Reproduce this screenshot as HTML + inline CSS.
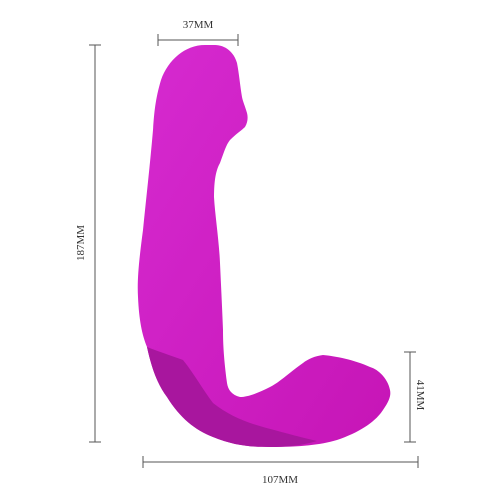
<!DOCTYPE html>
<html><head><meta charset="utf-8"><style>
html,body{margin:0;padding:0;background:#fff;}
svg{display:block;}
text{font-family:"Liberation Serif",serif;font-size:11px;fill:#333;}
</style></head><body>
<svg width="500" height="500" viewBox="0 0 500 500">
<defs>
<linearGradient id="g" x1="0" y1="0" x2="1" y2="1">
<stop offset="0" stop-color="#d62ad0"/><stop offset="1" stop-color="#c615b6"/>
</linearGradient>
</defs>
<g>
<path fill="url(#g)" d="M205,45 C185,45 168,60 161,80 C155,100 154,115 153,130 C150,165 146,200 143,230 C139,260 137,280 138,297 C139,320 142,335 147,347 C152,370 158,385 167,397 C180,418 195,430 213,437 C235,446 252,447 270,447 C300,447 320,445 337,440 C360,432 375,422 383,410 C390,400 391,395 390,390 C388,380 380,370 370,367 C355,360 335,356 323,355 C315,356 308,359 303,363 C290,372 280,382 270,387 C258,393 248,397 240,397 C232,395 228,390 227,383 C224,360 223,345 223,330 C222,305 221,285 220,263 C219,240 215,215 214,197 C214,180 216,170 220,163 C224,152 226,145 230,140 C236,134 242,130 245,127 C248,122 248,117 247,113 C245,106 243,102 242,97 C240,85 239,73 237,63 C234,52 225,45 215,45 Z"/>
<path fill="#a8169e" d="M147,347 C160,352 172,356 183,360 C195,375 203,390 213,403 C228,415 245,422 263,427 C285,433 300,437 317,441 C300,446 285,447 270,447 C252,447 235,446 213,437 C195,430 180,418 167,397 C158,385 152,370 147,347 Z"/>
</g>
<g stroke="#555" stroke-width="1" fill="none">
<path d="M95,45 V442 M89,45 H101 M89,442 H101"/>
<path d="M158,40 H238 M158,34 V46 M238,34 V46"/>
<path d="M410,352 V442 M404,352 H416 M404,442 H416"/>
<path d="M143,462 H418 M143,456 V468 M418,456 V468"/>
</g>
<text x="198" y="28" text-anchor="middle">37MM</text>
<text x="280" y="483" text-anchor="middle">107MM</text>
<text transform="translate(84,243) rotate(-90)" text-anchor="middle">187MM</text>
<text transform="translate(417,395) rotate(90)" text-anchor="middle">41MM</text>
</svg>
</body></html>
